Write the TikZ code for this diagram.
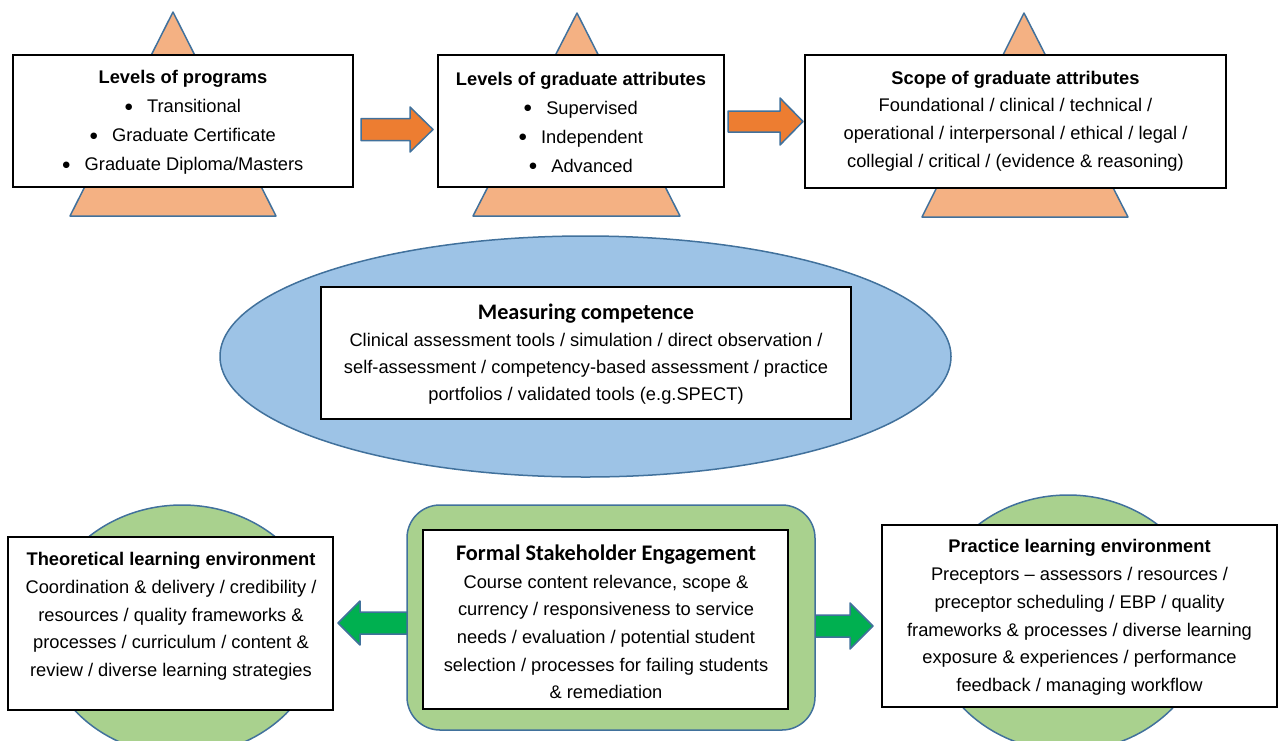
\documentclass[tikz,border=0pt]{standalone}
\usepackage{fontspec}
\setmainfont{Liberation Sans}
\newfontfamily\calibrifont{Carlito}
\newfontfamily\dejavufont{DejaVu Sans}
\newcommand\bigbul{\raisebox{3.2pt}{\dejavufont\fontsize{8.5}{0}\selectfont ●}\hspace{0.8em}}
\usetikzlibrary{shapes.geometric}
\definecolor{edgeblue}{HTML}{41719C}
\definecolor{trifill}{HTML}{F4B183}
\definecolor{orangearrow}{HTML}{ED7D31}
\definecolor{ellfill}{HTML}{9DC3E6}
\definecolor{greenfill}{HTML}{A9D18E}
\definecolor{greenarrow}{HTML}{00B050}
\tikzset{
  shapeedge/.style={draw=edgeblue, line width=1.5pt, line join=round},
  textbox/.style={draw=black, line width=1.1pt, fill=white, rectangle, inner sep=0pt},
  boxtext/.style={inner sep=0pt, align=center, font={\fontsize{18.3}{29}\selectfont}},
  boxtextb/.style={inner sep=0pt, align=center, font={\fontsize{18.3}{27.7}\selectfont}},
  boxtextc/.style={inner sep=0pt, align=center, font={\fontsize{18.3}{27}\selectfont}},
}
\begin{document}
\begin{tikzpicture}[x=1pt, y=-1pt]
\useasboundingbox (0,0) rectangle (1283,740);

% triangles
\draw[shapeedge, fill=trifill] (173,12) -- (276,216) -- (70,216) -- cycle;
\draw[shapeedge, fill=trifill] (577,13) -- (680,216) -- (473,216) -- cycle;
\draw[shapeedge, fill=trifill] (1024,13) -- (1128,217) -- (922,217) -- cycle;

% top boxes
\node[textbox, minimum width=340pt, minimum height=132pt] (progbox) at (183,121) {};
\node[textbox, minimum width=286pt, minimum height=132pt] (levbox) at (581,121) {};
\node[textbox, minimum width=421pt, minimum height=133pt] (scopebox) at (1015.5,121.5) {};

\node[boxtext] (progtext) at (183,122) {\textbf{Levels of programs}\\
  \bigbul Transitional\\
  \bigbul Graduate Certificate\\
  \bigbul Graduate Diploma/Masters};
\node[boxtext] (levtext) at (581,122) {\textbf{Levels of graduate attributes}\\
  \bigbul Supervised\\
  \bigbul Independent\\
  \bigbul Advanced};
\node[boxtextb] (scopetext) at (1015.5,121) {\textbf{Scope of graduate attributes}\\
  Foundational / clinical / technical /\\
  operational / interpersonal / ethical / legal /\\
  collegial / critical / (evidence \& reasoning)};

% orange block arrows
\draw[shapeedge, fill=orangearrow] (361,118.5) -- (410,118.5) -- (410,107) -- (433,129.5) -- (410,152) -- (410,140.5) -- (361,140.5) -- cycle;
\draw[shapeedge, fill=orangearrow] (728,111) -- (780,111) -- (780,98) -- (803,121.5) -- (780,145) -- (780,132) -- (728,132) -- cycle;

% measuring competence
\node[ellipse, shapeedge, fill=ellfill, minimum width=731pt, minimum height=241pt, inner sep=0pt] (measell) at (585.5,356.5) {};
\node[textbox, minimum width=530pt, minimum height=132pt] (measbox) at (586,353) {};
\node[boxtextc] (meastext) at (586,354) {{\calibrifont\bfseries\fontsize{22.2}{27}\selectfont Measuring competence}\\
  Clinical assessment tools / simulation / direct observation /\\
  self-assessment / competency-based assessment / practice\\
  portfolios / validated tools (e.g.SPECT)};

% bottom green circles
\node[ellipse, shapeedge, fill=greenfill, minimum width=280pt, minimum height=250pt, inner sep=0pt] (theocirc) at (182,630) {};
\node[ellipse, shapeedge, fill=greenfill, minimum width=280pt, minimum height=256pt, inner sep=0pt] (praccirc) at (1068,623) {};

% green block arrows
\draw[shapeedge, fill=greenarrow] (410,612) -- (360,612) -- (360,601) -- (338,623) -- (360,645) -- (360,634) -- (410,634) -- cycle;
\draw[shapeedge, fill=greenarrow] (812,615) -- (850,615) -- (850,603) -- (873,626) -- (850,649) -- (850,637) -- (812,637) -- cycle;

% formal stakeholder engagement
\node[rectangle, rounded corners=33pt, shapeedge, fill=greenfill, minimum width=408pt, minimum height=225pt, inner sep=0pt] (formalouter) at (611,617.5) {};
\node[textbox, minimum width=365pt, minimum height=179pt] (formalbox) at (605.5,619.5) {};
\node[boxtextb] (formaltext) at (606,622) {{\calibrifont\bfseries\fontsize{22.3}{27.7}\selectfont Formal Stakeholder Engagement}\\
  Course content relevance, scope \&\\
  currency / responsiveness to service\\
  needs / evaluation / potential student\\
  selection / processes for failing students\\
  \& remediation};

% theoretical
\node[textbox, minimum width=325pt, minimum height=173pt] (theobox) at (170.5,623.5) {};
\node[boxtextb] (theotext) at (171,616.5) {\textbf{Theoretical learning environment}\\
  Coordination \& delivery / credibility /\\
  resources / quality frameworks \&\\
  processes / curriculum / content \&\\
  review / diverse learning strategies};

% practice
\node[textbox, minimum width=395pt, minimum height=182pt] (pracbox) at (1079.5,616) {};
\node[boxtextb] (practext) at (1079.5,617.5) {\textbf{Practice learning environment}\\
  Preceptors – assessors / resources /\\
  preceptor scheduling / EBP / quality\\
  frameworks \& processes / diverse learning\\
  exposure \& experiences / performance\\
  feedback / managing workflow};
\end{tikzpicture}
\end{document}
